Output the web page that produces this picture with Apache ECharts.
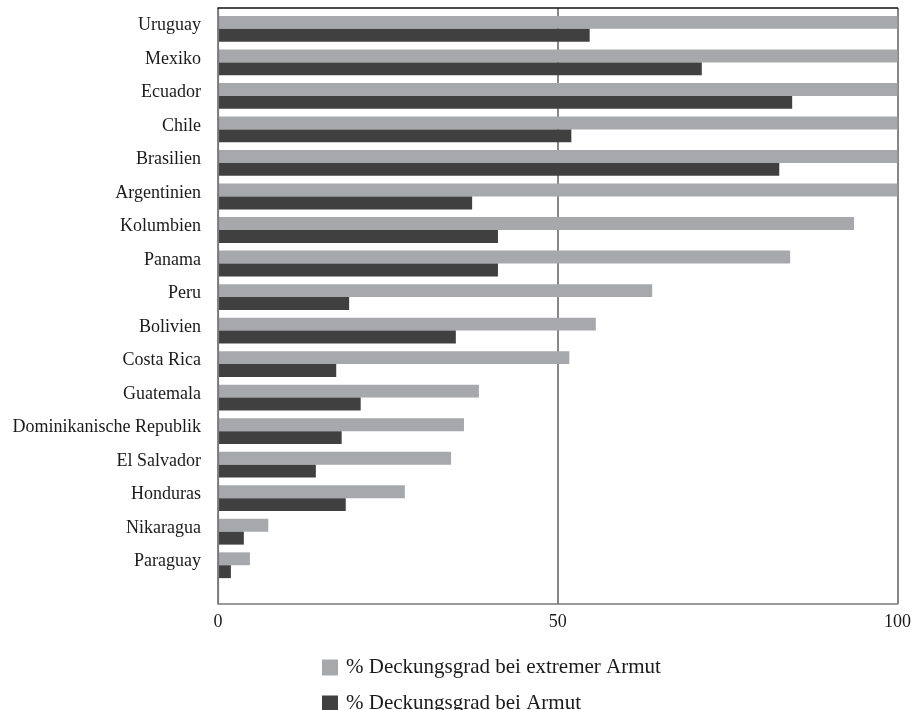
<!DOCTYPE html>
<html>
<head>
<meta charset="utf-8">
<script src="https://cdn.jsdelivr.net/npm/echarts@6/dist/echarts.min.js"></script>
<style>
  html, body { margin: 0; padding: 0; background: #fff; }
  #chart { width: 915px; height: 710px; }
</style>
</head>
<body>
<div id="chart"></div>
<script>
// Countries, top to bottom
const countries = [
  'Uruguay', 'Mexiko', 'Ecuador', 'Chile', 'Brasilien', 'Argentinien',
  'Kolumbien', 'Panama', 'Peru', 'Bolivien', 'Costa Rica', 'Guatemala',
  'Dominikanische Republik', 'El Salvador', 'Honduras', 'Nikaragua', 'Paraguay'
];

// % Deckungsgrad bei extremer Armut
const extremeCoverage = [
  100, 100, 100, 100, 100, 100,
  93.6, 84.2, 63.9, 55.6, 51.7, 38.4,
  36.2, 34.3, 27.5, 7.4, 4.7
];

// % Deckungsgrad bei Armut
const povertyCoverage = [
  54.7, 71.2, 84.5, 52.0, 82.6, 37.4,
  41.2, 41.2, 19.3, 35.0, 17.4, 21.0,
  18.2, 14.4, 18.8, 3.8, 1.9
];

const seriesNames = ['% Deckungsgrad bei extremer Armut', '% Deckungsgrad bei Armut'];
const xTicks = [0, 50, 100];

const FONT = 'Liberation Serif';
const chart = echarts.init(document.getElementById('chart'), null, { renderer: 'canvas' });

// one legend block per row, stacked
const legendRow = (name, top) => ({
  left: 317,
  top: top,
  itemWidth: 16,
  itemHeight: 16,
  icon: 'rect',
  selectedMode: false,
  textStyle: { color: '#1a1a1a', fontSize: 21, fontFamily: FONT, lineHeight: 20, padding: [0, 0, 0, 3] },
  data: [name]
});

chart.setOption({
  animation: false,
  backgroundColor: '#ffffff',
  textStyle: { fontFamily: FONT },
  grid: [
    // frame with the 0/50/100 scale
    { left: 218, right: 17.5, top: 8, bottom: 106 },
    // bars
    { left: 218, right: 17.5, top: 12.1, height: 569.9 }
  ],
  xAxis: [
    {
      gridIndex: 0, type: 'value', min: xTicks[0], max: xTicks[xTicks.length - 1], interval: 50,
      position: 'bottom',
      axisLine: { show: true, lineStyle: { color: '#7a7a7a', width: 1.5 } },
      axisTick: { show: false },
      axisLabel: { color: '#1a1a1a', fontSize: 18, fontFamily: FONT, margin: 9 },
      splitLine: { show: true, lineStyle: { color: '#7a7a7a', width: 1.8 } }
    },
    {
      gridIndex: 0, type: 'value', min: 0, max: 100, position: 'top', z: 5,
      axisLine: { show: true, lineStyle: { color: '#111111', width: 1.5 } },
      axisTick: { show: false }, axisLabel: { show: false }, splitLine: { show: false }
    },
    {
      gridIndex: 1, type: 'value', min: 0, max: 100, show: false
    }
  ],
  yAxis: [
    {
      gridIndex: 0, type: 'value', min: 0, max: 1, z: 5,
      axisLine: { show: true, lineStyle: { color: '#7a7a7a', width: 1.2 } },
      axisTick: { show: false }, axisLabel: { show: false }, splitLine: { show: false }
    },
    {
      gridIndex: 1, type: 'category', inverse: true, data: countries,
      axisLine: { show: false }, axisTick: { show: false },
      axisLabel: {
        margin: 17,
        formatter: (v) => '{t|' + v + '}',
        rich: {
          t: { color: '#1a1a1a', fontSize: 18, fontFamily: FONT, padding: [0, 0, 7, 0] }
        }
      }
    }
  ],
  legend: [
    legendRow(seriesNames[0], 652),
    legendRow(seriesNames[1], 688)
  ],
  series: [
    {
      name: seriesNames[0], type: 'bar', xAxisIndex: 2, yAxisIndex: 1,
      data: extremeCoverage, barGap: '0%', barCategoryGap: '23%',
      itemStyle: { color: '#a7a8ab' }
    },
    {
      name: seriesNames[1], type: 'bar', xAxisIndex: 2, yAxisIndex: 1,
      data: povertyCoverage, barGap: '0%', barCategoryGap: '23%',
      itemStyle: { color: '#404040' }
    }
  ]
});
</script>
</body>
</html>
